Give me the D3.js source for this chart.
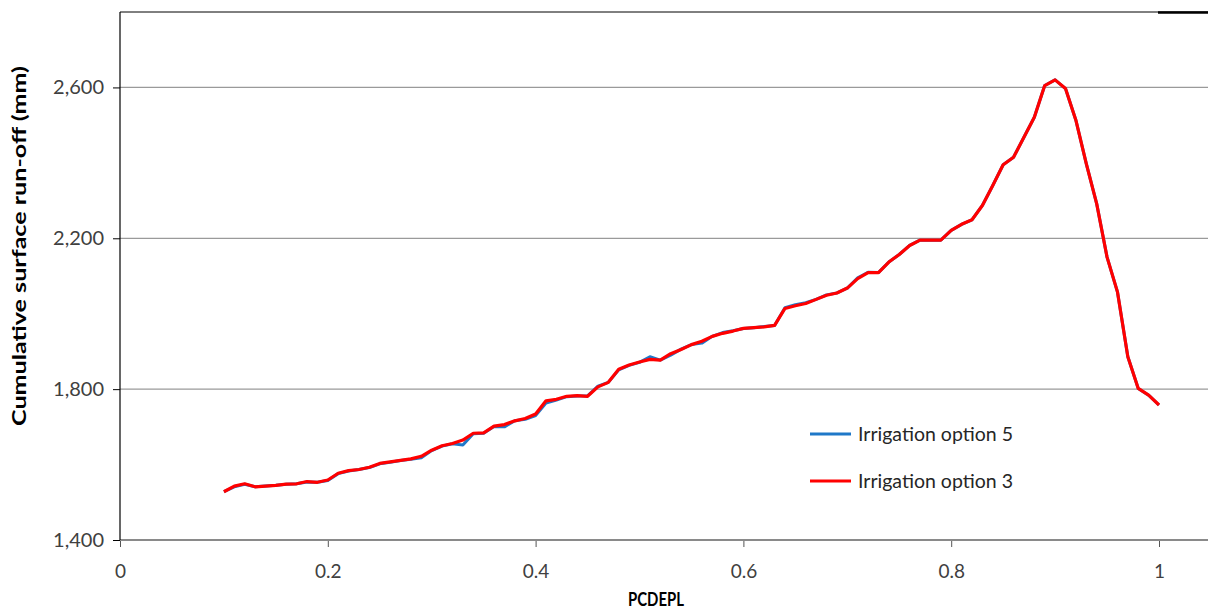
<!DOCTYPE html>
<html>
<head>
<meta charset="utf-8">
<script src="https://cdn.jsdelivr.net/npm/d3@7"></script>
<style>
  body { margin: 0; background: #fff; }
  svg { display: block; }
  text { font-family: Lato, "Open Sans", sans-serif; }
</style>
</head>
<body>
<svg id="chart" width="1208" height="609"></svg>
<script>
// ---- data ----
const pcdepl = [0.10,0.11,0.12,0.13,0.14,0.15,0.16,0.17,0.18,0.19,
  0.20,0.21,0.22,0.23,0.24,0.25,0.26,0.27,0.28,0.29,
  0.30,0.31,0.32,0.33,0.34,0.35,0.36,0.37,0.38,0.39,
  0.40,0.41,0.42,0.43,0.44,0.45,0.46,0.47,0.48,0.49,
  0.50,0.51,0.52,0.53,0.54,0.55,0.56,0.57,0.58,0.59,
  0.60,0.61,0.62,0.63,0.64,0.65,0.66,0.67,0.68,0.69,
  0.70,0.71,0.72,0.73,0.74,0.75,0.76,0.77,0.78,0.79,
  0.80,0.81,0.82,0.83,0.84,0.85,0.86,0.87,0.88,0.89,
  0.90,0.91,0.92,0.93,0.94,0.95,0.96,0.97,0.98,0.99,1.00];

const option3 = [1528,1543,1549,1541,1543,1545,1548,1549,1555,1553,
  1559,1577,1584,1587,1593,1603,1607,1611,1615,1622,
  1638,1650,1656,1665,1683,1684,1702,1706,1716,1722,
  1734,1769,1773,1781,1783,1781,1806,1818,1853,1864,
  1872,1879,1877,1894,1905,1918,1927,1940,1948,1954,
  1961,1963,1965,1969,2014,2021,2027,2038,2049,2055,
  2068,2093,2109,2109,2137,2157,2181,2195,2195,2195,
  2221,2237,2249,2287,2340,2395,2415,2468,2521,2605,
  2620,2597,2513,2398,2292,2150,2058,1886,1802,1784,1758];

const option5 = [1528,1541,1548,1541,1543,1545,1548,1549,1554,1553,
  1558,1576,1583,1587,1592,1602,1606,1611,1614,1618,
  1637,1649,1655,1652,1682,1683,1701,1700,1716,1720,
  1730,1763,1771,1780,1782,1782,1808,1818,1851,1863,
  1871,1886,1877,1890,1906,1918,1922,1940,1950,1955,
  1961,1963,1966,1969,2016,2024,2029,2038,2050,2055,
  2068,2095,2110,2109,2137,2157,2181,2195,2195,2195,
  2221,2237,2249,2287,2340,2395,2415,2468,2521,2605,
  2620,2597,2513,2398,2292,2150,2058,1886,1802,1784,1758];

const xTicks = [0, 0.2, 0.4, 0.6, 0.8, 1];
const yTicks = [1400, 1800, 2200, 2600];
const seriesNames = ["Irrigation option 5", "Irrigation option 3"];
const seriesColors = ["#1f78c8", "#ff0000"];

// ---- layout ----
const svg = d3.select("#chart");
const x = d3.scaleLinear().domain([0, 1]).range([120, 1159]);
const y = d3.scaleLinear().domain([1400, 2800]).range([540, 12]);

// gridlines
svg.append("g").selectAll("line").data(yTicks.filter(d => d > 1400)).join("line")
  .attr("x1", 120).attr("x2", 1208)
  .attr("y1", d => y(d)).attr("y2", d => y(d))
  .attr("stroke", "#9a9a9a").attr("stroke-width", 1.3);

// top frame
svg.append("line").attr("x1", 120).attr("x2", 1208).attr("y1", 12).attr("y2", 12)
  .attr("stroke", "#000").attr("stroke-width", 1);
svg.append("line").attr("x1", 1158).attr("x2", 1208).attr("y1", 12.5).attr("y2", 12.5)
  .attr("stroke", "#000").attr("stroke-width", 2.5);

// x axis
const xAxis = svg.append("g").attr("transform", "translate(0,540)")
  .call(d3.axisBottom(x).tickValues(xTicks).tickFormat(d3.format("~g")).tickSize(7).tickSizeOuter(0));
xAxis.select(".domain").remove();
xAxis.append("line").attr("x1", 120).attr("x2", 1208).attr("y1", 0).attr("y2", 0)
  .attr("stroke", "#8a8a8a").attr("stroke-width", 2);
xAxis.selectAll(".tick line").attr("stroke", "#555").attr("stroke-width", 1);
xAxis.selectAll(".tick text").attr("font-size", 19).attr("fill", "#404040")
  .attr("font-family", "Lato, sans-serif").attr("dy", "0.75em").attr("y", 24);

// y axis
const yAxis = svg.append("g").attr("transform", "translate(120,0)")
  .call(d3.axisLeft(y).tickValues(yTicks).tickFormat(d3.format(",")).tickSize(7).tickSizeOuter(0));
yAxis.select(".domain").attr("stroke", "#000").attr("stroke-width", 1.2)
  .attr("d", "M0,12V540");
yAxis.selectAll(".tick line").attr("stroke", "#000");
yAxis.selectAll(".tick text").attr("font-size", 20).attr("fill", "#404040")
  .attr("font-family", "Lato, sans-serif").attr("x", -16);

// axis titles
svg.append("text").attr("x", 628).attr("y", 606)
  .attr("textLength", 56).attr("lengthAdjust", "spacingAndGlyphs")
  .attr("font-size", 19).attr("font-weight", "bold").attr("fill", "#000").text("PCDEPL");
svg.append("text").attr("transform", "translate(26,426) rotate(-90)")
  .attr("textLength", 360).attr("lengthAdjust", "spacingAndGlyphs")
  .attr("font-size", 19.5).attr("font-weight", "bold").attr("fill", "#000")
  .text("Cumulative surface run-off  (mm)");

// lines
const series = [option5, option3];
const line = d3.line().x((d, i) => x(pcdepl[i])).y(d => y(d));
svg.append("g").selectAll("path").data(series).join("path")
  .attr("d", d => line(d))
  .attr("fill", "none")
  .attr("stroke", (d, i) => seriesColors[i])
  .attr("stroke-width", (d, i) => i === 0 ? 3 : 3.2)
  .attr("stroke-linejoin", "round");

// legend
const leg = svg.append("g").selectAll("g").data(seriesNames).join("g")
  .attr("transform", (d, i) => `translate(810,${434 + i * 47})`);
leg.append("line").attr("x1", 0).attr("x2", 41).attr("y1", 0).attr("y2", 0)
  .attr("stroke", (d, i) => seriesColors[i]).attr("stroke-width", 3);
leg.append("text").attr("x", 48).attr("y", 0).attr("dy", "0.35em")
  .attr("font-size", 19.5).attr("fill", "#262626").text(d => d);
</script>
</body>
</html>
